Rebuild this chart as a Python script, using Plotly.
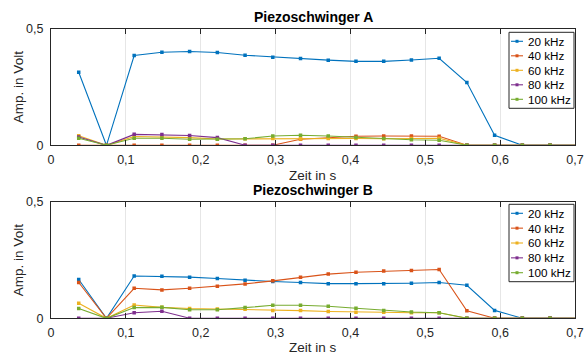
import plotly.graph_objects as go

# ---------------- data ----------------
time_s = [k / 27 for k in range(1, 20)]
series_names = ["20 kHz", "40 kHz", "60 kHz", "80 kHz", "100 kHz"]

a_20 = [0.314, 0, 0.386, 0.400, 0.403, 0.399, 0.387, 0.379, 0.373, 0.366, 0.361, 0.361, 0.367, 0.374, 0.270, 0.043, 0, 0, 0]
a_40 = [0, 0, 0, 0, 0, 0, 0, 0, 0.026, 0.034, 0.039, 0.040, 0.040, 0.039, 0, 0, 0, 0, 0]
a_60 = [0.041, 0, 0.038, 0.036, 0.033, 0.027, 0.028, 0.029, 0.027, 0.029, 0.029, 0.028, 0.029, 0.030, 0, 0, 0, 0, 0]
a_80 = [0.036, 0, 0.047, 0.046, 0.042, 0.033, 0, 0, 0, 0, 0, 0, 0, 0, 0, 0, 0, 0, 0]
a_100 = [0.030, 0, 0.030, 0.030, 0.026, 0.026, 0.028, 0.040, 0.043, 0.040, 0.034, 0.029, 0.024, 0.022, 0, 0, 0, 0, 0]

b_20 = [0.167, 0, 0.182, 0.181, 0.177, 0.171, 0.164, 0.158, 0.154, 0.149, 0.149, 0.149, 0.151, 0.154, 0.142, 0.034, 0, 0, 0]
b_40 = [0.154, 0, 0.129, 0.122, 0.129, 0.138, 0.148, 0.161, 0.177, 0.190, 0.198, 0.203, 0.206, 0.210, 0.032, 0, 0, 0, 0]
b_60 = [0.065, 0, 0.057, 0.047, 0.042, 0.040, 0.039, 0.034, 0.033, 0.029, 0.026, 0.026, 0.024, 0.024, 0, 0, 0, 0, 0]
b_80 = [0, 0, 0.024, 0.030, 0, 0, 0, 0, 0, 0, 0, 0, 0, 0, 0, 0, 0, 0, 0]
b_100 = [0.042, 0, 0.046, 0.047, 0.037, 0.037, 0.046, 0.056, 0.056, 0.052, 0.043, 0.034, 0.027, 0.024, 0, 0, 0, 0, 0]

x_tickvals = [0, 0.1, 0.2, 0.3, 0.4, 0.5, 0.6, 0.7]
x_ticktext = ["0", "0,1", "0,2", "0,3", "0,4", "0,5", "0,6", "0,7"]
y_tickvals = [0, 0.5]
y_ticktext = ["0", "0,5"]

titles = ["Piezoschwinger A", "Piezoschwinger B"]
x_title = "Zeit in s"
y_title = "Amp. in Volt"

colors = ["#0072BD", "#D95319", "#EDB120", "#7E2F8E", "#77AC30"]

# ---------------- figure ----------------
W, H = 587, 354
FONT = "Liberation Sans, Arial, Helvetica, sans-serif"
TXT = "#262626"
TICK_SIZE = 12.5
LABEL_SIZE = 13.5
TITLE_SIZE = 14
LEG_SIZE = 11.7

fig = go.Figure()

panels = [
    dict(data=[a_20, a_40, a_60, a_80, a_100], xa="x", ya="y"),
    dict(data=[b_20, b_40, b_60, b_80, b_100], xa="x2", ya="y2"),
]
for p in panels:
    for name, vals, col in zip(series_names, p["data"], colors):
        fig.add_trace(go.Scatter(
            x=time_s, y=vals, name=name, mode="lines+markers",
            line=dict(color=col, width=1.1),
            marker=dict(color=col, size=3.5, symbol="square"),
            xaxis=p["xa"], yaxis=p["ya"], showlegend=False,
        ))

# pixel layout
xl, xr = 51, 575
boxes = [(29, 145.3), (202, 318.3)]
title_y = [16.7, 190]
xtitle_y = [175, 347.7]
legend_boxes = [(32.3, 108.3), (204.3, 281.7)]
legend_x = (509, 574)


def px(v):
    return v / W


def py(v):
    return (H - v) / H


common_x = dict(
    range=[0, 0.7], tickvals=x_tickvals, ticktext=x_ticktext,
    showline=True, linecolor=TXT, linewidth=1, mirror="allticks",
    ticks="inside", ticklen=5, tickcolor=TXT,
    showgrid=True, gridcolor="#e6e6e6", gridwidth=1, zeroline=False,
    tickfont=dict(family=FONT, size=TICK_SIZE, color=TXT),
    ticklabelstandoff=3,
    automargin=False,
)
common_y = dict(
    range=[0, 0.5], tickvals=y_tickvals, ticktext=y_ticktext,
    showline=True, linecolor=TXT, linewidth=1, mirror="allticks",
    ticks="inside", ticklen=5, tickcolor=TXT,
    showgrid=False, zeroline=False,
    tickfont=dict(family=FONT, size=TICK_SIZE, color=TXT),
    ticklabelstandoff=4,
    automargin=False,
)

fig.update_layout(
    width=W, height=H,
    margin=dict(l=0, r=0, t=0, b=0, autoexpand=False),
    paper_bgcolor="white", plot_bgcolor="white",
    xaxis=dict(domain=[px(xl), px(xr)], anchor="y", **common_x),
    yaxis=dict(domain=[py(boxes[0][1]), py(boxes[0][0])], anchor="x", **common_y),
    xaxis2=dict(domain=[px(xl), px(xr)], anchor="y2", **common_x),
    yaxis2=dict(domain=[py(boxes[1][1]), py(boxes[1][0])], anchor="x2", **common_y),
    showlegend=False,
)

for i, (top, bot) in enumerate(boxes):
    # panel title
    fig.add_annotation(
        text=f"<b>{titles[i]}</b>", x=px((xl + xr) / 2), y=py(title_y[i]),
        xref="paper", yref="paper", xanchor="center", yanchor="middle",
        showarrow=False, font=dict(family=FONT, size=TITLE_SIZE, color="black"),
    )
    # x title
    fig.add_annotation(
        text=x_title, x=px((xl + xr) / 2), y=py(xtitle_y[i]),
        xref="paper", yref="paper", xanchor="center", yanchor="middle",
        showarrow=False, font=dict(family=FONT, size=LABEL_SIZE, color=TXT),
    )
    # y title
    fig.add_annotation(
        text=y_title, x=px(18), y=py((top + bot) / 2), textangle=-90,
        xref="paper", yref="paper", xanchor="center", yanchor="middle",
        showarrow=False, font=dict(family=FONT, size=LABEL_SIZE, color=TXT),
    )
    # legend box
    lt, lb = legend_boxes[i]
    fig.add_shape(
        type="rect", xref="paper", yref="paper",
        x0=px(legend_x[0]), x1=px(legend_x[1]), y0=py(lb), y1=py(lt),
        line=dict(color=TXT, width=1), fillcolor="white", layer="above",
    )
    step = (lb - lt - 18) / 4
    for j, (name, col) in enumerate(zip(series_names, colors)):
        ry = lt + 9 + j * step
        fig.add_shape(
            type="line", xref="paper", yref="paper",
            x0=px(511), x1=px(523), y0=py(ry), y1=py(ry),
            line=dict(color=col, width=1.1), layer="above",
        )
        fig.add_shape(
            type="rect", xref="paper", yref="paper",
            x0=px(515.5), x1=px(518.5), y0=py(ry + 1.5), y1=py(ry - 1.5),
            line=dict(width=0), fillcolor=col, layer="above",
        )
        fig.add_annotation(
            text=name, x=px(525.5), y=py(ry), xref="paper", yref="paper",
            xanchor="left", yanchor="middle", showarrow=False,
            font=dict(family=FONT, size=LEG_SIZE, color="black"),
        )

fig.write_html(
    "out.html",
    config={"displayModeBar": False},
    post_script="document.body.style.margin='0px';",
)
